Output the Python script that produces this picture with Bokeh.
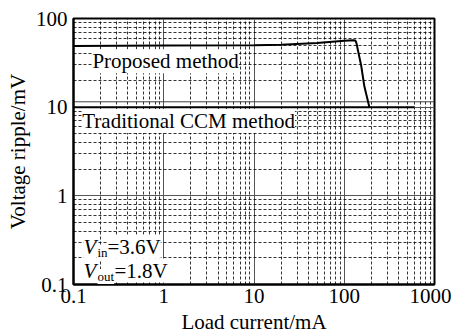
from bokeh.plotting import figure
from bokeh.models import Range1d, FixedTicker, CustomJSTickFormatter, Label
from bokeh.embed import file_html
from bokeh.resources import INLINE

# ---- data ----
x_ticks = [0.1, 1, 10, 100, 1000]
x_tick_labels = ["0.1", "1", "10", "100", "1000"]
y_ticks = [0.1, 1, 10, 100]
y_tick_labels = ["0.1", "1", "10", "100"]
minor_mult = [2, 3, 4, 5, 6, 7, 8, 9]

proposed_x = [0.1, 1, 10, 20, 50, 100, 125, 133, 137, 141, 146, 154, 167, 180, 190]
proposed_y = [49, 49.5, 50, 50.5, 53, 56, 57, 56.5, 52, 45, 38, 29.5, 17.2, 12.5, 10]

traditional_x = [0.1, 600]
traditional_y = [10, 10]

upper_x = [0.1, 1000]
upper_y = [11.5, 11.5]

FONT = "Liberation Serif"

x_minor = [d * m for d in x_ticks[:-1] for m in minor_mult]
y_minor = [d * m for d in y_ticks[:-1] for m in minor_mult]

p = figure(width=451, height=336, x_axis_type="log", y_axis_type="log",
           x_range=Range1d(0.1, 1000), y_range=Range1d(0.1, 100),
           output_backend="svg", toolbar_location=None,
           min_border_left=73, min_border_right=17, min_border_top=18, min_border_bottom=50)

p.background_fill_color = "white"
p.border_fill_color = "white"
p.outline_line_color = "black"
p.outline_line_width = 2
p.outline_line_alpha = 1

p.xaxis.ticker = FixedTicker(ticks=x_ticks, minor_ticks=x_minor)
p.yaxis.ticker = FixedTicker(ticks=y_ticks, minor_ticks=y_minor)
fmt_code = "const i = vals.indexOf(tick); return i >= 0 ? labs[i] : '';"
p.xaxis.formatter = CustomJSTickFormatter(args=dict(vals=x_ticks, labs=x_tick_labels), code=fmt_code)
p.yaxis.formatter = CustomJSTickFormatter(args=dict(vals=y_ticks, labs=y_tick_labels), code=fmt_code)

for ax in (p.xaxis[0], p.yaxis[0]):
    ax.axis_line_color = "black"
    ax.axis_line_width = 2
    ax.major_tick_in = 0
    ax.major_tick_out = 0
    ax.minor_tick_in = 0
    ax.minor_tick_out = 0
    ax.major_label_text_font = FONT
    ax.major_label_text_font_size = "21px"
    ax.major_label_text_color = "black"
    ax.axis_label_text_font = FONT
    ax.axis_label_text_font_size = "21px"
    ax.axis_label_text_font_style = "normal"
    ax.axis_label_text_color = "black"

p.xaxis.axis_label = "Load current/mA"
p.yaxis.axis_label = "Voltage ripple/mV"
p.xaxis.major_label_standoff = 4
p.xaxis.axis_label_standoff = 4
p.yaxis.major_label_standoff = 6
p.yaxis.axis_label_standoff = 3

for g in (p.xgrid[0], p.ygrid[0]):
    g.grid_line_color = "#555555"
    g.grid_line_width = 1
    g.minor_grid_line_color = "black"
    g.minor_grid_line_dash = "3 2"
    g.minor_grid_line_width = 1
    g.minor_grid_line_alpha = 0.8

p.line(upper_x, upper_y, line_color="#444444", line_width=1)
p.line(traditional_x, traditional_y, line_color="black", line_width=2)
p.line(proposed_x, proposed_y, line_color="black", line_width=2)

def lab(x, y, text, size="21px", style="normal", xo=0, yo=0, bg=True):
    p.add_layout(Label(x=x, y=y, x_offset=xo, y_offset=yo, text=text,
                       text_font=FONT, text_font_size=size, text_font_style=style,
                       text_baseline="middle", text_align="left", text_color="black",
                       background_fill_color="white" if bg else None))

lab(0.162, 33, "Proposed method")
lab(0.125, 7.0, "Traditional CCM method")

# V_in / V_out annotation
lab(0.129, 0.266, "in", size="13px", xo=14, yo=-6)
lab(0.129, 0.266, "V", style="italic")
lab(0.129, 0.266, "=3.6V", xo=24)
lab(0.129, 0.1435, "out", size="13px", xo=14, yo=-6)
lab(0.129, 0.1435, "V", style="italic")
lab(0.129, 0.1435, "=1.8V", xo=31)

open("out.html", "w").write(file_html(p, INLINE))
